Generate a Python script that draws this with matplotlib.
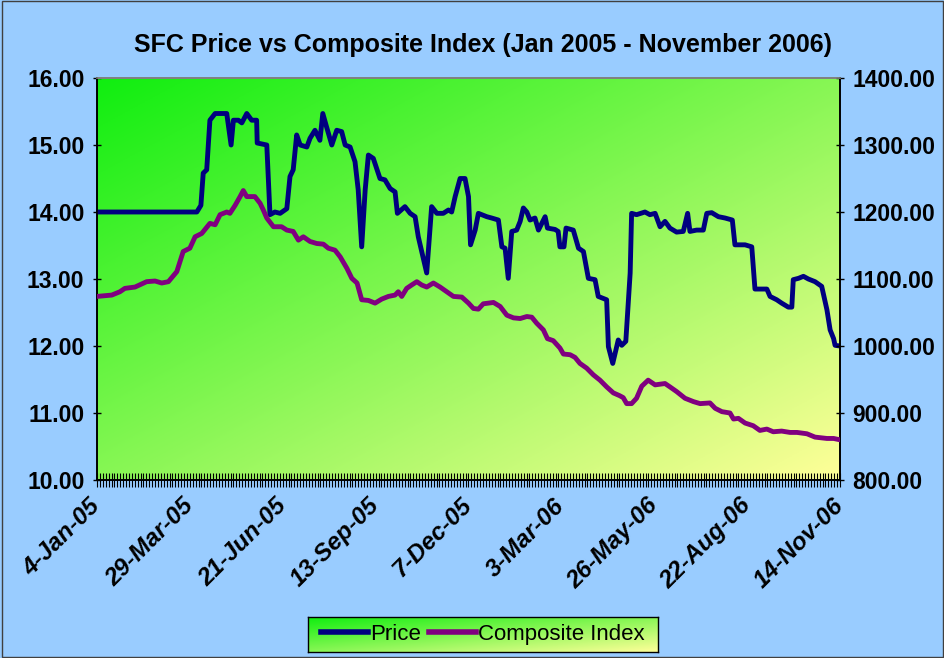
import numpy as np
import matplotlib
matplotlib.use("Agg")
import matplotlib.pyplot as plt
from matplotlib.colors import LinearSegmentedColormap
from matplotlib.lines import Line2D
from matplotlib.patches import Rectangle

# category axis: trading-day index, label every 32 days
date_labels = ["4-Jan-05", "29-Mar-05", "21-Jun-05", "13-Sep-05", "7-Dec-05",
               "3-Mar-06", "26-May-06", "22-Aug-06", "14-Nov-06"]
label_step = 32
n_days = 256

# SFC price (left axis)
price_day = [0, 34.4, 35.8, 36.6, 37.8, 38.9, 40.7, 44.7, 46.2, 47.0, 48.7, 49.9,
             51.6, 53.3, 55.0, 55.2, 58.5, 59.6, 61.3, 63.1, 65.4, 66.5, 67.6, 68.8,
             70.0, 72.3, 73.4, 75.1, 76.8, 77.8, 79.1, 80.9, 82.6, 84.3, 85.5, 87.2,
             88.9, 90.0, 91.2, 92.4, 93.5, 95.2, 97.5, 99.2, 101.0, 102.7, 103.5, 106.1,
             107.9, 109.6, 110.7, 113.6, 114.7, 115.3, 117.1, 119.3, 121.1, 122.2, 123.4,
             125.1, 126.8, 128.0, 128.7, 130.3, 131.4, 134.3, 136.0, 138.3, 139.5, 140.6,
             141.7, 142.9, 144.6, 145.8, 146.9, 148.1, 149.2, 150.9, 152.1, 154.4, 155.2,
             157.8, 158.9, 159.5, 160.9, 161.6, 164.1, 165.9, 167.6, 169.3, 171.6, 172.7,
             175.6, 176.2, 177.7, 179.6, 180.8, 182.2, 183.7, 184.2, 185.9, 188.8, 190.5,
             192.3, 194.0, 195.7, 197.4, 199.7, 202.0, 203.5, 204.3, 206.6, 208.9, 210.1,
             211.8, 214.1, 216.4, 218.9, 219.8, 223.3, 225.6, 226.7, 230.8, 231.9, 234.2,
             235.9, 238.2, 239.4, 239.9, 241.7, 243.4, 245.1, 247.4, 249.7, 251.5, 252.6,
             253.8, 254.3, 256.0]
price = [14.00, 14.00, 14.10, 14.58, 14.63, 15.37, 15.47, 15.47, 15.00, 15.37, 15.37, 15.33,
         15.47, 15.37, 15.37, 15.03, 15.00, 13.96, 14.00, 13.98, 14.05, 14.53, 14.63, 15.15,
         15.00, 14.97, 15.10, 15.22, 15.07, 15.47, 15.27, 15.00, 15.22, 15.20, 15.00, 14.97,
         14.75, 14.33, 13.48, 14.33, 14.85, 14.80, 14.50, 14.48, 14.35, 14.30, 13.98, 14.08,
         13.98, 13.93, 13.63, 13.09, 13.73, 14.08, 13.98, 13.98, 14.03, 14.00, 14.23,
         14.50, 14.50, 14.23, 13.51, 13.73, 13.98, 13.93, 13.91, 13.88, 13.48, 13.46,
         13.01, 13.71, 13.73, 13.86, 14.06, 14.00, 13.88, 13.91, 13.73, 13.93, 13.76,
         13.74, 13.71, 13.48, 13.48, 13.76, 13.73, 13.46, 13.41, 13.01, 12.99, 12.74,
         12.69, 11.99, 11.74, 12.09, 12.01, 12.07, 13.09, 13.98, 13.96, 14.00, 13.96,
         13.98, 13.78, 13.86, 13.76, 13.70, 13.71, 13.98, 13.71, 13.73, 13.73, 13.98,
         13.99, 13.93, 13.91, 13.88, 13.51, 13.51, 13.48, 12.85, 12.85, 12.74, 12.69,
         12.64, 12.58, 12.58, 12.99, 13.01, 13.04, 13.00, 12.96, 12.89, 12.54, 12.24,
         12.11, 12.01, 12.00]

# Composite index (right axis)
index_day = [0, 5.1, 7.9, 9.6, 13.1, 17.1, 20.0, 22.3, 24.6, 27.5, 29.7, 32.0, 33.8,
             36.1, 38.9, 40.7, 42.4, 44.7, 45.8, 47.6, 49.3, 50.4, 51.6, 54.4, 56.2, 57.3,
             58.5, 60.8, 63.6, 65.4, 67.6, 69.4, 71.1, 73.4, 75.7, 78.0, 79.7, 82.0, 83.8,
             86.1, 87.8, 89.6, 91.2, 93.5, 95.8, 98.1, 100.4, 102.7, 103.8, 105.0, 106.7,
             108.4, 110.2, 111.9, 113.6, 115.9, 118.2, 120.5, 122.8, 125.7, 128.0, 129.7,
             131.4, 133.1, 136.6, 138.9, 141.2, 143.5, 145.8, 148.1, 149.8, 151.5, 153.8,
             155.2, 157.2, 159.5, 160.7, 163.0, 164.7, 166.4, 168.7, 171.0, 173.3, 175.6,
             177.9, 180.0, 181.3, 182.5, 184.2, 185.9, 187.7, 189.9, 192.3, 195.7, 197.4,
             199.7, 202.6, 205.5, 207.8, 211.2, 213.0, 215.3, 218.1, 219.3, 221.0, 223.3,
             226.1, 228.4, 230.8, 233.0, 235.9, 238.8, 241.2, 244.6, 247.4, 251.5, 253.8,
             256.0]
index_val = [1074, 1076, 1081, 1086, 1088, 1096, 1097, 1094, 1096, 1111, 1141, 1146, 1163,
             1168, 1183, 1181, 1196, 1200, 1198, 1210, 1223, 1232, 1223, 1223, 1213, 1203,
             1191, 1178, 1178, 1173, 1171, 1158, 1163, 1156, 1153, 1152, 1146, 1143, 1133,
             1116, 1101, 1094, 1069, 1068, 1064, 1070, 1074, 1076, 1081, 1074, 1086,
             1091, 1096, 1091, 1088, 1094, 1088, 1081, 1074, 1073, 1064, 1056,
             1055, 1063, 1065, 1059, 1046, 1042, 1041, 1044, 1043, 1034, 1024,
             1011, 1008, 997, 988, 987, 983, 974, 967, 957, 949, 939,
             930, 926, 923, 914, 914, 922, 940, 949, 942, 944, 939,
             932, 922, 917, 914, 915, 907, 902, 900, 891, 892, 885,
             881, 874, 876, 872, 873, 871, 871, 869, 864, 862, 862,
             860]

bg = "#99CCFF"
grad = LinearSegmentedColormap.from_list("g", ["#10EE10", "#FFFF99"])


def fill_gradient(ax):
    gx, gy = np.meshgrid(np.linspace(0, 1, 300), np.linspace(0, 1, 300))
    ax.imshow((gx + gy) / 2, cmap=grad, extent=[0, 1, 0, 1], origin="upper",
              transform=ax.transAxes, aspect="auto", zorder=0, interpolation="bilinear")


fig = plt.figure(figsize=(9.45, 6.58), dpi=100, facecolor=bg)
fig.patches.append(Rectangle((0.002, 0.002), 0.996, 0.996, transform=fig.transFigure,
                             fill=False, edgecolor="#404040", linewidth=1))

ax = fig.add_axes([97 / 945, 1 - 480 / 658, 743 / 945, 402 / 658])
fill_gradient(ax)
ax2 = ax.twinx()

ax.plot(price_day, price, color="#000080", linewidth=3.5, solid_joinstyle="round", zorder=3)
ax2.plot(index_day, index_val, color="#800080", linewidth=3.5, solid_joinstyle="round", zorder=3)

ax.set_xlim(0, n_days)
ax.set_ylim(10, 16)
ax2.set_ylim(800, 1400)
ax.set_yticks(np.arange(10, 16.01, 1))
ax2.set_yticks(np.arange(800, 1400.1, 100))
ax.set_yticklabels([f"{v:.2f}" for v in np.arange(10, 16.01, 1)])
ax2.set_yticklabels([f"{v:.2f}" for v in np.arange(800, 1400.1, 100)])

ax.set_xticks(np.arange(0, n_days + 1, label_step))
ax.set_xticks(np.arange(0, n_days + 1, 1), minor=True)
ax.set_xticklabels(date_labels, rotation=45, ha="right", va="center",
                   rotation_mode="anchor", fontsize=17.5, fontweight="bold",
                   fontstyle="italic", family="Liberation Sans")
ax.tick_params(axis="x", which="both", direction="inout", length=10, width=0.8, pad=11)

for a in (ax, ax2):
    a.tick_params(axis="y", direction="inout", length=6, width=1, labelsize=16.5, pad=6)
    for lab in a.get_yticklabels():
        lab.set_fontweight("bold")
        lab.set_family("Liberation Sans")
    for s in a.spines.values():
        s.set_color("black")
        s.set_linewidth(1.2)
    a.spines["top"].set_color("#808080")

fig.text(483 / 945, 1 - 45 / 658, "SFC Price vs Composite Index (Jan 2005 - November 2006)",
         ha="center", va="center", fontsize=18, fontweight="bold", family="Liberation Sans")

# legend box with the same gradient fill
lax = fig.add_axes([308 / 945, 1 - 652 / 658, 350 / 945, 35 / 658])
fill_gradient(lax)
lax.set_xticks([])
lax.set_yticks([])
for s in lax.spines.values():
    s.set_color("black")
    s.set_linewidth(1)
handles = [Line2D([], [], color="#000080", linewidth=4),
           Line2D([], [], color="#800080", linewidth=4)]
lax.legend(handles, ["Price", "Composite Index"], loc="center", ncol=2, frameon=False,
           prop={"family": "Liberation Sans", "size": 16}, handlelength=2.1,
           handletextpad=0.1, columnspacing=0.35, borderpad=0.1)

fig.savefig("out.png", dpi=100, facecolor=bg)
